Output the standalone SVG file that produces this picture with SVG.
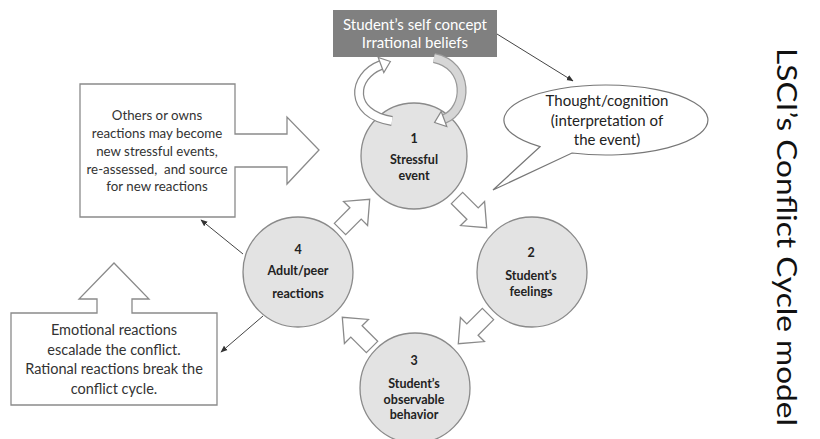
<svg xmlns="http://www.w3.org/2000/svg" width="820" height="439" viewBox="0 0 820 439">
<defs>
<style>
.t{font-family:Lato,"Liberation Sans",sans-serif;fill:#333;text-anchor:middle}
.b{font-weight:bold;font-size:12.5px;fill:#222}
.circ{fill:#e3e3e3;stroke:#8a8a8a;stroke-width:1.3}
.blk{fill:#fff;stroke:#8a8a8a;stroke-width:1.3}
.ln{stroke:#444;stroke-width:1;fill:none;marker-end:url(#ah)}
</style>
<marker id="ah" viewBox="0 0 10 10" refX="9" refY="5" markerWidth="7" markerHeight="7" orient="auto" markerUnits="userSpaceOnUse"><path d="M0,1 L10,5 L0,9 Z" fill="#333"/></marker>
<polygon id="barrow" points="0,-8 22,-8 22,-17 42,0 22,17 22,8 0,8"/>
</defs>
<rect width="820" height="439" fill="#fff"/>

<g id="others-box">
<path class="blk" d="M80,84 H235 V134 H287 V117 L319,150 L287,184 V167 H235 V217 H80 Z"/>
<text class="t" font-size="13.3" x="157" y="120">Others or owns</text>
<text class="t" font-size="13.3" x="157" y="138">reactions may become</text>
<text class="t" font-size="13.3" x="157" y="155.5">new stressful events,</text>
<text class="t" font-size="13.3" x="157" y="173.5" xml:space="preserve">re-assessed,  and source</text>
<text class="t" font-size="13.3" x="157" y="191">for new reactions</text>
</g>

<g id="emotional-box">
<path class="blk" d="M11,313 H97 V299 H79 L114,263 L149,299 H132 V313 H217 V405 H11 Z"/>
<text class="t" font-size="14.5" x="114" y="335">Emotional reactions</text>
<text class="t" font-size="14.5" x="114" y="355">escalade the conflict.</text>
<text class="t" font-size="14.5" x="114" y="374">Rational reactions break the</text>
<text class="t" font-size="14.5" x="114" y="394">conflict cycle.</text>
</g>

<g id="self-concept">
<rect x="333" y="10" width="164" height="47" fill="#808080"/>
<text class="t" font-size="15" x="415" y="30" style="fill:#fff">Student’s self concept</text>
<text class="t" font-size="15" x="415" y="48" style="fill:#fff">Irrational beliefs</text>
</g>

<g id="thought-bubble">
<path d="M540,146.7 A102,35 0 1 1 572,153 L493,190 Z" fill="#fff" stroke="#777" stroke-width="1.2"/>
<text class="t" font-size="15" x="607" y="106" style="fill:#222">Thought/cognition</text>
<text class="t" font-size="15" x="607" y="126" style="fill:#222">(interpretation of</text>
<text class="t" font-size="15" x="607" y="145" style="fill:#222">the event)</text>
</g>

<g id="node1">
<circle class="circ" cx="414" cy="156" r="53"/>
<text class="t b" x="414" y="143">1</text>
<text class="t b" x="414" y="164">Stressful</text>
<text class="t b" x="414" y="180">event</text>
</g>
<g id="node2">
<circle class="circ" cx="532" cy="272" r="55"/>
<text class="t b" x="531" y="257">2</text>
<text class="t b" x="531" y="280">Student’s</text>
<text class="t b" x="531" y="296">feelings</text>
</g>
<g id="node3">
<circle class="circ" cx="415" cy="388" r="55"/>
<text class="t b" x="414" y="365">3</text>
<text class="t b" x="414" y="388">Student’s</text>
<text class="t b" x="414" y="404">observable</text>
<text class="t b" x="414" y="419">behavior</text>
</g>
<g id="node4">
<circle class="circ" cx="298" cy="272" r="55"/>
<text class="t b" x="298" y="254">4</text>
<text class="t b" x="298" y="275">Adult/peer</text>
<text class="t b" x="298" y="298">reactions</text>
</g>

<g id="connectors">
<use href="#barrow" class="blk" transform="translate(340,229) rotate(-45)"/>
<use href="#barrow" class="blk" transform="translate(457,198) rotate(45)"/>
<use href="#barrow" class="blk" transform="translate(488,314) rotate(135)"/>
<use href="#barrow" class="blk" transform="translate(372,347) rotate(-135)"/>
<path d="M392,121 C348,114 352,76 381,65" fill="none" stroke="#888" stroke-width="10"/>
<path d="M392,121 C348,114 352,76 381,65" fill="none" stroke="#fff" stroke-width="7.5"/>
<polygon points="390.4,61.5 383.8,72.5 378.2,57.5" fill="#fff" stroke="#888" stroke-width="1.2"/>
<path d="M434,58 C470,65 468,110 444,119" fill="none" stroke="#999" stroke-width="10"/>
<path d="M434,58 C470,65 468,110 444,119" fill="none" stroke="#d6d6d6" stroke-width="7.5"/>
<polygon points="434.6,122.5 446.8,126.5 441.2,111.5" fill="#fff" stroke="#888" stroke-width="1.2"/>
<line class="ln" x1="497" y1="34" x2="573" y2="81"/>
<line class="ln" x1="243" y1="254" x2="201" y2="220"/>
<line class="ln" x1="263" y1="316" x2="221" y2="352"/>
</g>

<text font-family="Lato,'Liberation Sans',sans-serif" font-size="27" fill="#111" transform="translate(777,48) rotate(90)" textLength="378" lengthAdjust="spacingAndGlyphs">LSCI’s Conflict Cycle model</text>
</svg>
